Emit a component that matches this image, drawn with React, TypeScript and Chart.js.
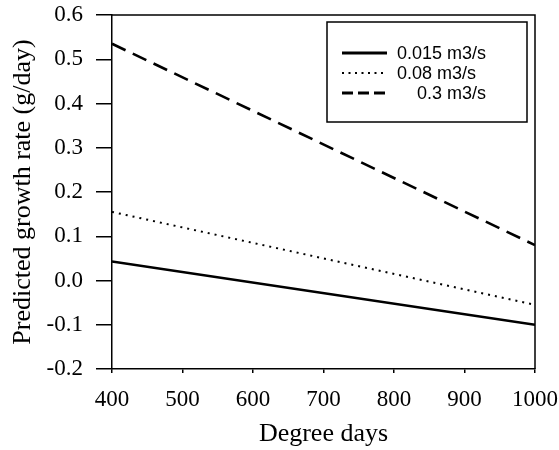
import React, { useEffect, useRef } from "react";
import { Chart, registerables } from "chart.js";

Chart.register(...registerables);

const degreeDays = [400, 1000];
const flow015 = [0.043, -0.1];
const flow008 = [0.155, -0.055];
const flow03 = [0.535, 0.08];
const seriesLabels = ["0.015 m3/s", "0.08 m3/s", "  0.3 m3/s"];
const xTicks = [400, 500, 600, 700, 800, 900, 1000];
const yTicks = [-0.2, -0.1, 0.0, 0.1, 0.2, 0.3, 0.4, 0.5, 0.6];

const serif = "'Liberation Serif', 'Times New Roman', serif";
const sans = "'Liberation Sans', Arial, sans-serif";

const toPoints = (ys: number[]) => ys.map((y, i) => ({ x: degreeDays[i], y }));

const dashes = [[], [2, 5], [15, 8]];

const zeroPad = (s: any) => {
  s.paddingTop = 0;
  s.paddingBottom = 0;
  s.paddingLeft = 0;
  s.paddingRight = 0;
};

const framePlugin = {
  id: "frameAndLegend",
  afterDraw(chart: any) {
    const { ctx, chartArea } = chart;
    ctx.save();
    ctx.strokeStyle = "#000";
    ctx.lineWidth = 1.5;
    ctx.beginPath();
    ctx.moveTo(chartArea.left, chartArea.top);
    ctx.lineTo(chartArea.right, chartArea.top);
    ctx.lineTo(chartArea.right, chartArea.bottom);
    ctx.stroke();

    // legend box
    const bx = 327, by = 22, bw = 200, bh = 100;
    ctx.fillStyle = "#fff";
    ctx.fillRect(bx, by, bw, bh);
    ctx.lineWidth = 1.5;
    ctx.strokeRect(bx, by, bw, bh);
    const legendDash = [[], [2, 4.5], [11, 5]];
    const rowY = [53, 73, 93];
    chart.data.datasets.forEach((ds: any, i: number) => {
      const y = rowY[i];
      ctx.beginPath();
      ctx.setLineDash(legendDash[i]);
      ctx.lineWidth = i === 1 ? 1.8 : 3;
      ctx.moveTo(342, y);
      ctx.lineTo(387, y);
      ctx.stroke();
      ctx.setLineDash([]);
      ctx.fillStyle = "#000";
      ctx.font = `18px ${sans}`;
      ctx.textBaseline = "middle";
      ctx.textAlign = "left";
      ctx.fillText(ds.label.trim(), i === 2 ? 417 : 397, y + 1);
    });
    ctx.restore();
  },
};

export default function App() {
  const ref = useRef<HTMLCanvasElement | null>(null);
  useEffect(() => {
    document.body.style.margin = "0";
    const chart = new Chart(ref.current as HTMLCanvasElement, {
      type: "line",
      data: {
        datasets: [flow015, flow008, flow03].map((vals, i) => ({
          label: seriesLabels[i],
          data: toPoints(vals),
          borderColor: "#000",
          borderWidth: i === 1 ? 2 : 2.6,
          borderDash: dashes[i],
          borderCapStyle: "butt",
          pointRadius: 0,
          fill: false,
          tension: 0,
        })),
      },
      options: {
        animation: false,
        responsive: false,
        maintainAspectRatio: false,
        layout: { padding: { top: 15, right: 24, left: 0, bottom: 0 } },
        plugins: { legend: { display: false }, tooltip: { enabled: false } },
        scales: {
          x: {
            type: "linear",
            min: 400,
            max: 1000,
            afterBuildTicks: (s: any) => {
              s.ticks = xTicks.map((v) => ({ value: v }));
            },
            afterFit: (s: any) => {
              s.height = 81;
              zeroPad(s);
            },
            grid: { drawOnChartArea: false, tickLength: 4, color: "#000", lineWidth: 1.5 },
            border: { color: "#000", width: 1.5 },
            ticks: {
              color: "#000",
              font: { family: serif, size: 23 },
              padding: 13,
              maxRotation: 0,
              callback: (v: any) => String(v),
            },
            title: {
              display: true,
              text: "Degree days",
              color: "#000",
              font: { family: serif, size: 26 },
              padding: { top: 0, bottom: 0 },
            },
          },
          y: {
            min: -0.2,
            max: 0.6,
            afterBuildTicks: (s: any) => {
              s.ticks = yTicks.map((v) => ({ value: v }));
            },
            afterFit: (s: any) => {
              s.width = 112;
              zeroPad(s);
            },
            grid: { drawOnChartArea: false, tickLength: 16, color: "#000", lineWidth: 1.5 },
            border: { color: "#000", width: 1.5 },
            ticks: {
              color: "#000",
              font: { family: serif, size: 23 },
              padding: 13,
              callback: (v: any) => Number(v).toFixed(1),
            },
            title: {
              display: true,
              text: "Predicted growth rate (g/day)",
              color: "#000",
              font: { family: serif, size: 26 },
              padding: { top: 8, bottom: 0 },
            },
          },
        },
      },
      plugins: [framePlugin],
    } as any);
    return () => chart.destroy();
  }, []);
  return (
    <div style={{ position: "absolute", left: 0, top: 0, width: 559, height: 450 }}>
      <canvas ref={ref} width={559} height={450} style={{ width: 559, height: 450 }} />
    </div>
  );
}
